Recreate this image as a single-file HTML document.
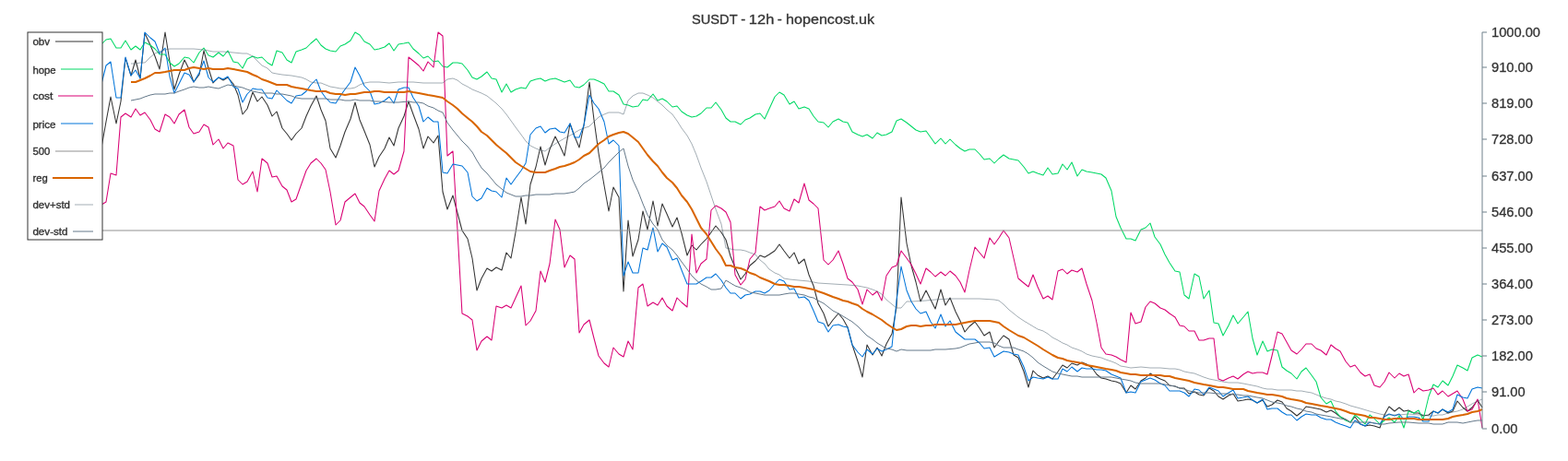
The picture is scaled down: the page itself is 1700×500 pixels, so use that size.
<!DOCTYPE html>
<html><head><meta charset="utf-8"><title>SUSDT - 12h - hopencost.uk</title>
<style>
html,body{margin:0;padding:0;background:#fff;}
svg{display:block;}
text{font-family:"Liberation Sans",sans-serif;fill:#333;}
.ti{font-size:15.2px;stroke:#333;stroke-width:0.3px;}
.lg{font-size:11.6px;stroke:#333;stroke-width:0.35px;}
.ax{font-size:14.65px;stroke:#333;stroke-width:0.3px;}
</style></head><body>
<svg width="1700" height="500" viewBox="0 0 1700 500">
<rect width="1700" height="500" fill="#fff"/>
<text y="26" class="ti"><tspan x="750" textLength="49.6" lengthAdjust="spacingAndGlyphs">SUSDT</tspan><tspan x="799.0"> - </tspan><tspan x="811.8" textLength="27.5" lengthAdjust="spacingAndGlyphs">12h</tspan><tspan x="838.6"> - </tspan><tspan x="852" textLength="96.0" lengthAdjust="spacingAndGlyphs">hopencost.uk</tspan></text>
<path d="M110 160L115 132L120 105L126 134L131 110L136 63L142 82L147 65L152 85L157 36L163 49L168 61L173 75L179 35L184 67L189 97L194 81L200 65L205 75L210 89L216 81L221 55L226 74L231 90L237 84L242 87L247 84L253 91L258 103L263 124L268 118L274 100L279 110L284 105L290 114L295 126L300 121L306 139L311 145L316 152L321 145L327 139L332 126L337 115L343 104L348 119L353 131L358 161L364 171L369 158L374 143L380 129L385 111L390 130L395 142L401 157L406 181L411 170L417 161L422 149L427 158L432 139L438 126L443 110L448 124L454 140L459 161L464 148L470 155L475 147L480 208L485 227L491 212L496 231L501 250L507 259L512 280L517 315L522 302L528 291L533 294L538 290L544 293L549 274L554 280L559 252L565 214L570 243L575 200L581 181L586 159L591 179L596 162L602 148L607 158L612 169L618 134L623 148L628 160L633 136L639 89L644 130L649 166L655 201L660 229L665 203L671 214L676 316L681 239L686 278L692 260L697 229L702 249L708 218L713 245L718 221L723 232L729 246L734 236L739 253L745 277L750 266L755 271L760 265L766 259L771 252L776 245L782 252L787 260L792 278L797 290L803 303L808 297L813 288L819 283L824 277L829 279L834 276L840 272L845 265L850 272L856 280L861 274L866 286L872 281L877 298L882 310L887 329L893 340L898 354L903 347L909 340L914 346L919 355L924 374L930 392L935 409L940 374L946 385L951 377L956 386L961 373L967 362L972 333L977 214L983 264L988 288L993 306L998 327L1004 315L1009 325L1014 335L1020 314L1025 331L1030 323L1036 338L1041 348L1046 360L1051 354L1057 349L1062 356L1067 364L1073 360L1078 377L1083 370L1088 364L1094 368L1099 385L1104 388L1110 403L1115 420L1120 402L1125 407L1131 410L1136 408L1141 411L1147 403L1152 396L1157 399L1162 394L1168 396L1173 393L1178 395L1184 399L1189 406L1194 410L1199 411L1205 413L1210 414L1215 416L1221 426L1226 418L1231 422L1237 413L1242 410L1247 405L1252 408L1258 411L1263 413L1268 418L1274 419L1279 421L1284 421L1289 427L1295 425L1300 428L1305 429L1311 421L1316 424L1321 430L1326 433L1332 429L1337 427L1342 435L1348 434L1353 433L1358 434L1363 437L1369 434L1374 441L1379 439L1385 434L1390 436L1395 443L1400 446L1406 451L1411 447L1416 441L1422 442L1427 443L1432 444L1438 447L1443 445L1448 448L1453 452L1459 455L1464 458L1469 452L1475 460L1480 462L1485 461L1490 462L1496 464L1501 450L1506 441L1512 446L1517 442L1522 446L1527 445L1533 448L1538 448L1543 451L1549 450L1554 446L1559 448L1564 444L1570 448L1575 446L1580 435L1586 442L1591 446L1596 442L1602 434L1607 442" stroke="#333333" stroke-width="1.05" fill="none" stroke-linejoin="round" stroke-linecap="butt"/>
<path d="M110 48L115 43L120 42L126 52L131 52L136 44L142 54L147 50L152 54L157 46L163 49L168 53L173 59L179 59L184 68L189 72L194 69L200 62L205 63L210 68L216 57L221 52L226 60L231 62L237 57L242 61L247 55L253 67L258 68L263 74L268 64L274 61L279 63L284 62L290 68L295 71L300 55L306 57L311 65L316 68L321 56L327 54L332 52L337 47L343 42L348 49L353 53L358 55L364 56L369 50L374 48L380 44L385 35L390 38L395 45L401 48L406 54L411 53L417 51L422 47L427 55L432 48L438 47L443 46L448 53L454 58L459 63L464 61L470 67L475 66L480 72L485 73L491 68L496 68L501 69L507 76L512 84L517 86L522 83L528 78L533 85L538 86L544 100L549 91L554 100L559 97L565 95L570 96L575 88L581 86L586 85L591 88L596 86L602 85L607 87L612 89L618 87L623 94L628 95L633 92L639 86L644 86L649 88L655 91L660 99L665 99L671 103L676 113L681 114L686 116L692 115L697 108L702 109L708 102L713 109L718 107L723 110L729 116L734 115L739 121L745 125L750 127L755 126L760 123L766 117L771 117L776 111L782 119L787 128L792 132L797 132L803 135L808 130L813 128L819 124L824 123L829 129L834 118L840 105L845 100L850 103L856 113L861 110L866 118L872 116L877 118L882 126L887 132L893 133L898 138L903 132L909 129L914 132L919 133L924 143L930 146L935 148L940 146L946 150L951 144L956 147L961 146L967 143L972 131L977 129L983 133L988 137L993 141L998 143L1004 142L1009 149L1014 156L1020 150L1025 156L1030 151L1036 157L1041 161L1046 164L1051 162L1057 162L1062 167L1067 173L1073 172L1078 177L1083 172L1088 168L1094 172L1099 173L1104 174L1110 181L1115 188L1120 186L1125 188L1131 190L1136 182L1141 189L1147 188L1152 178L1157 184L1162 176L1168 191L1173 184L1178 186L1184 187L1189 188L1194 189L1199 193L1205 207L1210 235L1215 247L1221 259L1226 259L1231 261L1237 249L1242 247L1247 242L1252 257L1258 265L1263 276L1268 285L1274 294L1279 295L1284 320L1289 324L1295 297L1300 300L1305 324L1311 315L1316 350L1321 351L1326 364L1332 353L1337 342L1342 351L1348 344L1353 338L1358 367L1363 385L1369 370L1374 381L1379 379L1385 380L1390 398L1395 402L1400 405L1406 411L1411 403L1416 399L1422 407L1427 414L1432 431L1438 438L1443 435L1448 446L1453 452L1459 456L1464 458L1469 450L1475 455L1480 460L1485 450L1490 454L1496 460L1501 456L1506 453L1512 458L1517 451L1522 464L1527 446L1533 448L1538 445L1543 455L1549 430L1554 417L1559 420L1564 413L1570 418L1575 408L1580 396L1586 399L1591 402L1596 388L1602 385L1607 387" stroke="#00d965" stroke-width="1.05" fill="none" stroke-linejoin="round" stroke-linecap="butt"/>
<path d="M110 222L115 219L120 188L126 190L131 127L136 123L142 127L147 118L152 125L157 122L163 130L168 140L173 143L179 124L184 127L189 134L194 124L200 119L205 138L210 145L216 143L221 135L226 138L231 157L237 151L242 161L247 155L253 158L258 195L263 200L268 197L274 186L279 208L284 172L290 177L295 192L300 191L306 202L311 206L316 219L321 216L327 199L332 185L337 177L343 172L348 177L353 184L358 208L364 244L369 239L374 219L380 214L385 210L390 220L395 224L401 233L406 240L411 207L417 194L422 185L427 189L432 185L438 164L443 62L448 66L454 71L459 77L464 67L470 73L475 35L480 39L485 169L491 164L496 250L501 340L507 343L512 347L517 380L522 370L528 365L533 369L538 332L544 334L549 331L554 334L559 323L565 310L570 353L575 348L581 337L586 294L591 306L596 286L602 238L607 249L612 290L618 277L623 281L628 361L633 352L639 347L644 367L649 386L655 394L660 398L665 377L671 384L676 387L681 370L686 379L692 312L697 308L702 332L708 328L713 331L718 323L723 332L729 337L734 323L739 328L745 333L750 254L755 296L760 286L766 281L771 228L776 223L782 226L787 230L792 241L797 298L803 309L808 303L813 281L819 274L824 224L829 228L834 226L840 224L845 218L850 226L856 229L861 216L866 220L872 199L877 217L882 221L887 226L893 282L898 287L903 282L909 272L914 286L919 302L924 306L930 314L935 330L940 314L946 320L951 316L956 326L961 299L967 290L972 288L977 272L983 280L988 287L993 297L998 308L1004 291L1009 295L1014 300L1020 295L1025 299L1030 294L1036 299L1041 306L1046 317L1051 293L1057 268L1062 274L1067 280L1073 258L1078 265L1083 258L1088 250L1094 258L1099 280L1104 302L1110 307L1115 311L1120 298L1125 311L1131 324L1136 321L1141 325L1147 294L1152 292L1157 297L1162 293L1168 295L1173 291L1178 308L1184 326L1189 350L1194 377L1199 384L1205 385L1210 387L1215 390L1221 393L1226 339L1231 351L1237 349L1242 333L1247 327L1252 329L1258 334L1263 336L1268 340L1274 344L1279 353L1284 354L1289 359L1295 359L1300 369L1305 369L1311 367L1316 367L1321 411L1326 413L1332 410L1337 408L1342 411L1348 406L1353 403L1358 405L1363 404L1369 404L1374 406L1379 386L1385 360L1390 362L1395 371L1400 380L1406 384L1411 379L1416 373L1422 373L1427 378L1432 380L1438 385L1443 374L1448 378L1453 381L1459 392L1464 398L1469 396L1475 404L1480 408L1485 406L1490 418L1496 420L1501 414L1506 404L1512 410L1517 405L1522 408L1527 406L1533 426L1538 421L1543 424L1549 423L1554 421L1559 428L1564 424L1570 430L1575 427L1580 424L1586 433L1591 446L1596 444L1602 433L1607 464" stroke="#d90074" stroke-width="1.05" fill="none" stroke-linejoin="round" stroke-linecap="butt"/>
<path d="M110 91L115 71L120 67L126 106L131 106L136 62L142 82L147 76L152 85L157 35L163 41L168 45L173 58L179 52L184 83L189 101L194 91L200 79L205 81L210 89L216 79L221 66L226 84L231 89L237 84L242 86L247 83L253 94L258 96L263 111L268 102L274 96L279 97L284 97L290 106L295 107L300 98L306 104L311 109L316 112L321 104L327 103L332 99L337 92L343 86L348 99L353 106L358 111L364 112L369 104L374 97L380 89L385 73L390 82L395 93L401 99L406 113L411 112L417 109L422 105L427 112L432 97L438 95L443 95L448 106L454 115L459 132L464 127L470 132L475 132L480 187L485 188L491 178L496 179L501 180L507 187L512 213L517 218L522 215L528 204L533 207L538 208L544 214L549 193L554 200L559 193L565 185L570 177L575 146L581 139L586 137L591 144L596 140L602 139L607 143L612 144L618 134L623 149L628 149L633 136L639 103L644 112L649 118L655 132L660 156L665 152L671 158L676 299L681 284L686 296L692 296L697 269L702 271L708 247L713 273L718 264L723 268L729 282L734 280L739 293L745 308L750 308L755 308L760 305L766 301L771 301L776 297L782 304L787 312L792 318L797 318L803 324L808 320L813 319L819 316L824 316L829 318L834 315L840 308L845 303L850 305L856 314L861 313L866 323L872 322L877 326L882 337L887 349L893 351L898 360L903 353L909 352L914 354L919 355L924 374L930 382L935 387L940 379L946 384L951 378L956 381L961 379L967 376L972 326L977 289L983 315L988 327L993 335L998 340L1004 338L1009 349L1014 356L1020 341L1025 354L1030 348L1036 360L1041 364L1046 368L1051 368L1057 368L1062 372L1067 378L1073 377L1078 387L1083 384L1088 381L1094 382L1099 384L1104 385L1110 398L1115 413L1120 409L1125 410L1131 411L1136 409L1141 411L1147 411L1152 400L1157 403L1162 398L1168 403L1173 399L1178 400L1184 400L1189 401L1194 401L1199 402L1205 406L1210 408L1215 410L1221 426L1226 425L1231 426L1237 414L1242 412L1247 410L1252 412L1258 416L1263 418L1268 424L1274 424L1279 424L1284 426L1289 430L1295 422L1300 423L1305 428L1311 420L1316 422L1321 424L1326 430L1332 426L1337 423L1342 432L1348 431L1353 430L1358 434L1363 437L1369 433L1374 444L1379 443L1385 443L1390 447L1395 450L1400 450L1406 456L1411 452L1416 449L1422 450L1427 450L1432 453L1438 455L1443 455L1448 458L1453 460L1459 462L1464 464L1469 456L1475 460L1480 462L1485 458L1490 459L1496 460L1501 452L1506 449L1512 451L1517 449L1522 455L1527 452L1533 452L1538 453L1543 457L1549 457L1554 446L1559 448L1564 444L1570 447L1575 444L1580 428L1586 431L1591 432L1596 422L1602 420L1607 421" stroke="#0074d9" stroke-width="1.05" fill="none" stroke-linejoin="round" stroke-linecap="butt"/>
<path d="M110 250L1607 250" stroke="#919191" stroke-width="1" fill="none"/>
<path d="M142 89L147 89L152 87L157 85L163 82L168 79L173 79L179 78L184 77L189 76L194 76L200 76L205 74L210 73L216 74L221 75L226 74L231 75L237 75L242 75L247 74L253 75L258 76L263 77L268 78L274 81L279 83L284 86L290 88L295 90L300 92L306 92L311 92L316 94L321 95L327 96L332 97L337 98L343 99L348 99L353 99L358 101L364 102L369 102L374 103L380 102L385 102L390 101L395 100L401 100L406 99L411 99L417 100L422 100L427 100L432 100L438 100L443 99L448 100L454 101L459 102L464 103L470 104L475 105L480 106L485 110L491 114L496 118L501 123L507 128L512 132L517 137L522 143L528 147L533 152L538 157L544 162L549 166L554 171L559 176L565 180L570 183L575 186L581 187L586 187L591 187L596 185L602 183L607 181L612 180L618 178L623 176L628 173L633 169L639 166L644 161L649 156L655 152L660 148L665 146L671 144L676 143L681 145L686 149L692 154L697 161L702 168L708 175L713 180L718 187L723 193L729 198L734 204L739 212L745 219L750 227L755 237L760 247L766 254L771 262L776 270L782 278L787 288L792 288L797 290L803 291L808 293L813 296L819 298L824 301L829 303L834 305L840 308L845 309L850 309L856 310L861 311L866 311L872 312L877 313L882 314L887 316L893 318L898 320L903 322L909 324L914 326L919 327L924 329L930 331L935 335L940 338L946 341L951 344L956 347L961 351L967 355L972 358L977 357L983 354L988 353L993 353L998 354L1004 353L1009 353L1014 352L1020 352L1025 352L1030 352L1036 352L1041 351L1046 350L1051 349L1057 348L1062 348L1067 348L1073 348L1078 349L1083 350L1088 354L1094 358L1099 361L1104 364L1110 366L1115 369L1120 372L1125 375L1131 379L1136 382L1141 385L1147 388L1152 389L1157 391L1162 392L1168 393L1173 394L1178 396L1184 397L1189 398L1194 399L1199 400L1205 401L1210 402L1215 404L1221 405L1226 406L1231 406L1237 407L1242 407L1247 407L1252 407L1258 407L1263 408L1268 408L1274 410L1279 411L1284 412L1289 413L1295 415L1300 416L1305 417L1311 418L1316 419L1321 420L1326 420L1332 421L1337 422L1342 422L1348 422L1353 424L1358 425L1363 426L1369 427L1374 428L1379 428L1385 429L1390 430L1395 432L1400 433L1406 434L1411 435L1416 437L1422 438L1427 439L1432 440L1438 441L1443 442L1448 443L1453 444L1459 446L1464 448L1469 449L1475 450L1480 451L1485 453L1490 453L1496 454L1501 455L1506 455L1512 454L1517 454L1522 454L1527 454L1533 454L1538 455L1543 455L1549 455L1554 455L1559 455L1564 455L1570 454L1575 452L1580 451L1586 450L1591 449L1596 447L1602 446L1607 444" stroke="#d96500" stroke-width="2" fill="none" stroke-linejoin="round" stroke-linecap="butt"/>
<path d="M142 69L147 69L152 68L157 68L163 62L168 58L173 56L179 54L184 53L189 53L210 53L221 54L231 56L242 56L253 57L263 58L268 58L274 61L279 66L284 71L290 74L295 79L300 80L306 81L316 82L327 84L332 86L337 89L343 90L348 90L353 92L358 94L364 95L369 96L374 96L380 96L385 95L390 92L395 90L401 89L411 89L422 90L432 89L443 89L448 89L459 90L464 90L480 90L485 86L491 85L496 87L501 91L507 94L512 97L517 99L522 101L528 104L533 108L538 112L544 118L549 124L554 131L559 138L565 146L570 153L575 158L581 161L586 163L591 164L596 160L602 156L607 153L612 150L618 147L623 144L628 141L633 139L639 137L644 132L649 127L655 124L660 122L665 122L671 122L676 124L681 109L686 104L692 101L697 101L702 103L708 106L713 110L718 114L723 119L729 124L734 131L739 139L745 147L750 156L755 168L760 182L766 197L771 212L776 227L782 243L787 269L792 270L797 271L803 271L808 272L813 274L819 276L824 282L829 286L834 292L840 296L845 298L850 302L856 303L866 304L877 305L887 307L903 308L919 309L930 310L935 311L940 312L946 314L951 316L956 319L961 325L967 330L972 334L977 334L983 327L988 327L1004 326L1014 325L1030 324L1046 324L1062 324L1078 325L1083 326L1088 330L1094 336L1099 340L1104 344L1110 348L1115 351L1120 354L1125 357L1131 359L1136 362L1141 366L1147 369L1152 372L1157 374L1162 377L1168 379L1173 381L1178 384L1184 386L1189 387L1194 388L1199 390L1205 392L1210 394L1215 397L1221 398L1226 399L1237 398L1247 399L1258 399L1268 400L1274 400L1279 401L1284 403L1289 404L1295 405L1300 407L1305 409L1311 411L1316 412L1321 413L1326 414L1332 415L1337 415L1342 415L1348 416L1353 417L1358 418L1363 419L1369 421L1374 422L1379 422L1385 423L1390 423L1395 423L1400 423L1406 424L1411 424L1416 425L1422 426L1427 428L1432 430L1438 432L1443 433L1448 435L1453 436L1459 438L1464 440L1475 443L1485 446L1496 449L1501 450L1506 450L1517 450L1527 449L1538 450L1543 450L1549 451L1554 451L1559 450L1564 450L1570 448L1575 447L1580 446L1586 444L1591 441L1596 438L1602 435L1607 433" stroke="#465a69" stroke-width="0.5" fill="none" stroke-linejoin="round" stroke-linecap="butt"/>
<path d="M142 109L147 108L152 107L157 105L163 103L168 102L173 102L179 102L184 101L189 101L194 99L200 97L205 95L210 94L216 95L221 95L226 94L231 95L237 96L242 94L247 92L253 93L258 94L263 95L268 97L274 99L279 100L284 101L290 101L295 101L300 102L306 102L311 103L316 104L321 106L327 107L332 107L337 107L343 107L348 107L353 107L358 108L364 108L369 108L374 109L380 109L385 108L390 109L395 109L401 109L406 110L411 110L422 111L432 111L443 110L448 111L454 111L459 112L464 115L470 117L475 120L480 122L485 133L491 141L496 147L501 153L507 159L512 165L517 174L522 182L528 188L533 194L538 200L544 205L549 209L554 211L559 213L565 213L570 212L575 212L581 211L591 211L596 211L602 210L607 210L612 210L618 209L623 208L628 204L633 199L639 195L644 191L649 187L655 182L660 176L665 171L671 165L676 161L681 180L686 195L692 208L697 221L702 233L708 243L713 249L718 260L723 266L729 271L734 277L739 284L745 292L750 299L755 304L760 308L766 311L771 314L776 314L782 313L787 304L792 307L797 310L803 312L808 314L813 317L819 318L824 319L829 320L840 320L845 320L850 319L856 318L861 318L866 319L872 320L877 322L882 323L887 326L893 329L898 333L903 337L909 340L914 343L919 346L924 349L930 354L935 359L940 364L946 368L951 372L956 375L961 378L967 379L972 381L977 379L983 380L988 380L998 380L1009 380L1014 379L1025 379L1036 378L1041 377L1046 375L1051 373L1057 372L1062 371L1067 371L1073 371L1078 372L1083 375L1088 377L1094 377L1099 377L1104 379L1110 381L1115 384L1120 388L1125 393L1131 397L1136 400L1141 403L1147 405L1152 406L1157 407L1162 408L1168 408L1173 409L1184 409L1194 409L1205 409L1210 410L1215 411L1221 412L1226 413L1231 415L1237 416L1242 416L1252 416L1258 416L1263 417L1268 418L1274 419L1279 421L1284 422L1289 424L1295 425L1300 426L1305 426L1311 426L1321 427L1332 427L1337 428L1342 428L1348 429L1353 429L1358 430L1363 431L1369 432L1374 434L1379 436L1385 437L1390 438L1395 440L1400 441L1406 443L1411 444L1416 446L1422 447L1427 449L1432 450L1438 451L1443 452L1448 453L1453 454L1459 455L1464 458L1469 458L1475 458L1485 458L1496 460L1501 460L1506 459L1517 458L1527 458L1538 459L1543 459L1549 459L1554 460L1559 460L1564 460L1570 458L1575 458L1580 458L1586 459L1591 458L1596 457L1602 456L1607 456" stroke="#65798a" stroke-width="1" fill="none" stroke-linejoin="round" stroke-linecap="butt"/>
<path d="M1607 35L1607 465" stroke="#6e808b" stroke-width="1" fill="none"/>
<path d="M1607 465L1612 465" stroke="#6e808b" stroke-width="1" fill="none"/><text x="1617" y="470" class="ax">0.00</text>
<path d="M1607 425L1612 425" stroke="#6e808b" stroke-width="1" fill="none"/><text x="1617" y="430" class="ax">91.00</text>
<path d="M1607 386L1612 386" stroke="#6e808b" stroke-width="1" fill="none"/><text x="1617" y="391" class="ax">182.00</text>
<path d="M1607 347L1612 347" stroke="#6e808b" stroke-width="1" fill="none"/><text x="1617" y="352" class="ax">273.00</text>
<path d="M1607 308L1612 308" stroke="#6e808b" stroke-width="1" fill="none"/><text x="1617" y="313" class="ax">364.00</text>
<path d="M1607 269L1612 269" stroke="#6e808b" stroke-width="1" fill="none"/><text x="1617" y="274" class="ax">455.00</text>
<path d="M1607 230L1612 230" stroke="#6e808b" stroke-width="1" fill="none"/><text x="1617" y="235" class="ax">546.00</text>
<path d="M1607 191L1612 191" stroke="#6e808b" stroke-width="1" fill="none"/><text x="1617" y="196" class="ax">637.00</text>
<path d="M1607 151L1612 151" stroke="#6e808b" stroke-width="1" fill="none"/><text x="1617" y="156" class="ax">728.00</text>
<path d="M1607 112L1612 112" stroke="#6e808b" stroke-width="1" fill="none"/><text x="1617" y="117" class="ax">819.00</text>
<path d="M1607 73L1612 73" stroke="#6e808b" stroke-width="1" fill="none"/><text x="1617" y="78" class="ax">910.00</text>
<path d="M1607 35L1612 35" stroke="#6e808b" stroke-width="1" fill="none"/><text x="1617" y="40" class="ax">1000.00</text>

<rect x="30" y="35" width="81" height="225" fill="#fff" stroke="#333" stroke-width="1"/>
<text x="35.4" y="49" class="lg" textLength="18.7" lengthAdjust="spacingAndGlyphs">obv</text><path d="M60 45L101 45" stroke="#333333" stroke-width="1" fill="none"/>
<text x="35.4" y="80" class="lg" textLength="25.3" lengthAdjust="spacingAndGlyphs">hope</text><path d="M66 75L101 75" stroke="#00d965" stroke-width="1" fill="none"/>
<text x="35.4" y="108" class="lg" textLength="22.0" lengthAdjust="spacingAndGlyphs">cost</text><path d="M63 104L101 104" stroke="#d90074" stroke-width="1" fill="none"/>
<text x="35.4" y="139" class="lg" textLength="25.2" lengthAdjust="spacingAndGlyphs">price</text><path d="M66 134L101 134" stroke="#0074d9" stroke-width="1" fill="none"/>
<text x="35.4" y="168" class="lg" textLength="18.9" lengthAdjust="spacingAndGlyphs">500</text><path d="M60 164L101 164" stroke="#919191" stroke-width="1" fill="none"/>
<text x="35.4" y="197" class="lg" textLength="16.3" lengthAdjust="spacingAndGlyphs">reg</text><path d="M57 193L101 193" stroke="#d96500" stroke-width="2" fill="none"/>
<text x="35.4" y="226" class="lg" textLength="40.6" lengthAdjust="spacingAndGlyphs">dev+std</text><path d="M81 222L101 222" stroke="#465a69" stroke-width="0.5" fill="none"/>
<text x="35.4" y="255" class="lg" textLength="38.2" lengthAdjust="spacingAndGlyphs">dev-std</text><path d="M79 251L101 251" stroke="#65798a" stroke-width="1" fill="none"/>

</svg>
</body></html>
